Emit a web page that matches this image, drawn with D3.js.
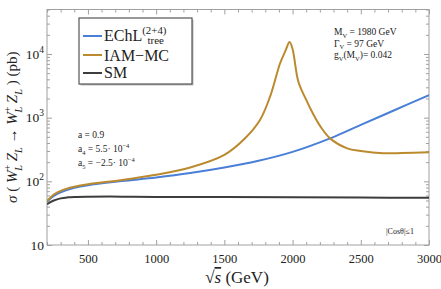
<!DOCTYPE html>
<html>
<head>
<meta charset="utf-8">
<script src="https://cdn.jsdelivr.net/npm/d3@7"></script>
<style>
  body { margin: 0; background: #fff; }
  text { font-family: "Liberation Serif", "DejaVu Serif", serif; }
</style>
</head>
<body>
<div id="chart"></div>
<script>
const width = 441;
const height = 289;

// sqrt(s) in GeV and sigma in pb
const smX = [200, 250, 300, 350, 400, 500, 750, 1000, 1500, 2000, 2500, 3000];
const smY = [44, 50, 54, 56, 57, 57.5, 57.5, 57, 56.5, 56, 55.5, 55];

const echlX = [200, 250, 300, 400, 500, 750, 1000, 1250, 1500, 1750, 2000, 2275, 2500, 2750, 3000];
const echlY = [48, 59, 67, 79, 87, 101, 115, 135, 165, 210, 290, 473, 770, 1320, 2265];

const iamX = [200, 250, 300, 400, 500, 750, 1000, 1250, 1500, 1650, 1760, 1835, 1908, 1950, 1978, 2000, 2042, 2100, 2150, 2200, 2275, 2400, 2500, 2663, 2800, 3000];
const iamY = [49, 62, 71, 82, 90, 105, 127, 165, 260, 470, 910, 2140, 7100, 11500, 15500, 12000, 3700, 1900, 1150, 750, 473, 330, 300, 276, 278, 286];

const xTicks = [500, 1000, 1500, 2000, 2500, 3000];
const yTicks = [10, 100, 1000, 10000];
const yExp = ["", "2", "3", "4"];

const series = [
  {name: "EChL", xs: echlX, ys: echlY, color: "#4a7fd8"},
  {name: "IAM-MC", xs: iamX, ys: iamY, color: "#bb8a2e"},
  {name: "SM", xs: smX, ys: smY, color: "#3d3d3d"}
];

const margin = {top: 9.5, right: 12, bottom: 44, left: 47};

const svg = d3.select("#chart").append("svg")
  .attr("width", width)
  .attr("height", height);

const x = d3.scaleLinear()
  .domain([200, 3000])
  .range([margin.left, width - margin.right]);

const y = d3.scaleLog()
  .domain([10, 50000])
  .range([height - margin.bottom, margin.top]);

const frameColor = "#a0a0a0";

// minor tick values
const xMinor = d3.range(200, 3001, 100).filter(d => d % 500 !== 0);
const yMinor = [];
[10, 100, 1000, 10000].forEach(b => {
  for (let k = 2; k <= 9; k++) if (b * k <= 50000) yMinor.push(b * k);
});

function styleAxis(g) {
  g.select(".domain").remove();
  g.selectAll("line").attr("stroke", frameColor);
}

// bottom / top axes
svg.append("g")
  .attr("transform", `translate(0,${y.range()[0]})`)
  .call(d3.axisBottom(x).tickValues(xTicks).tickSize(-5).tickPadding(9).tickFormat(d3.format("d")))
  .call(styleAxis)
  .call(g => g.selectAll("text").attr("font-size", 12.5).attr("fill", "#222")
    .attr("font-family", "Liberation Serif"));
svg.append("g")
  .attr("transform", `translate(0,${y.range()[0]})`)
  .call(d3.axisBottom(x).tickValues(xMinor).tickSize(-3).tickFormat(""))
  .call(styleAxis);
svg.append("g")
  .attr("transform", `translate(0,${y.range()[1]})`)
  .call(d3.axisTop(x).tickValues(xTicks).tickSize(-5).tickFormat(""))
  .call(styleAxis);
svg.append("g")
  .attr("transform", `translate(0,${y.range()[1]})`)
  .call(d3.axisTop(x).tickValues(xMinor).tickSize(-3).tickFormat(""))
  .call(styleAxis);

// left / right axes
svg.append("g")
  .attr("transform", `translate(${x.range()[0]},0)`)
  .call(d3.axisLeft(y).tickValues(yTicks).tickSize(-5).tickFormat(""))
  .call(styleAxis);
svg.append("g")
  .attr("transform", `translate(${x.range()[0]},0)`)
  .call(d3.axisLeft(y).tickValues(yMinor).tickSize(-3).tickFormat(""))
  .call(styleAxis);
svg.append("g")
  .attr("transform", `translate(${x.range()[1]},0)`)
  .call(d3.axisRight(y).tickValues(yTicks).tickSize(-5).tickFormat(""))
  .call(styleAxis);
svg.append("g")
  .attr("transform", `translate(${x.range()[1]},0)`)
  .call(d3.axisRight(y).tickValues(yMinor).tickSize(-3).tickFormat(""))
  .call(styleAxis);

// y tick labels 10, 10^2 ...
yTicks.forEach((v, i) => {
  const t = svg.append("text")
    .attr("x", x.range()[0] - 3)
    .attr("y", y(v) + 4.5)
    .attr("text-anchor", "end")
    .attr("font-size", 13.5)
    .attr("fill", "#222");
  t.append("tspan").text("10");
  if (yExp[i]) t.append("tspan").attr("dy", -6).attr("font-size", 9.5).text(yExp[i]);
});

// frame
svg.append("rect")
  .attr("x", x.range()[0]).attr("y", y.range()[1])
  .attr("width", x.range()[1] - x.range()[0])
  .attr("height", y.range()[0] - y.range()[1])
  .attr("fill", "none")
  .attr("stroke", frameColor)
  .attr("stroke-width", 1);

// curves
svg.append("clipPath").attr("id", "clip").append("rect")
  .attr("x", x.range()[0]).attr("y", y.range()[1])
  .attr("width", x.range()[1] - x.range()[0])
  .attr("height", y.range()[0] - y.range()[1]);

const line = d3.line()
  .curve(d3.curveCatmullRom.alpha(0.5))
  .x(d => x(d[0]))
  .y(d => y(d[1]));

[series[2], series[0], series[1]].forEach(s => {
  svg.append("path")
    .datum(s.xs.map((v, i) => [v, s.ys[i]]))
    .attr("clip-path", "url(#clip)")
    .attr("fill", "none")
    .attr("stroke", s.color)
    .attr("stroke-width", 2)
    .attr("stroke-linejoin", "round")
    .attr("d", line);
});

// rich text helper: parts = [text, mode, dx, italic] with mode "", "i", "sub", "sup"
function rich(t, parts, size, subShift = 0.3) {
  let off = 0;
  parts.forEach(p => {
    const [txt, mode, dx, ital] = p;
    let target = 0;
    if (mode === "sub") target = size * subShift;
    if (mode === "sup") target = -size * 0.42;
    const ts = t.append("tspan").text(txt).attr("dy", target - off);
    if (dx) ts.attr("dx", dx);
    if (mode === "sub" || mode === "sup") ts.attr("font-size", size * 0.68);
    if (mode === "i" || ital) ts.attr("font-style", "italic");
    off = target;
  });
}

// legend
const lg = svg.append("g");
lg.append("rect")
  .attr("x", 80.5).attr("y", 19.5).attr("width", 113).attr("height", 66)
  .attr("fill", "#bbb");
lg.append("rect")
  .attr("x", 79).attr("y", 18).attr("width", 113).attr("height", 66)
  .attr("fill", "#fff").attr("stroke", "#555").attr("stroke-width", 1.2);
const legY = [36, 55, 73];
series.forEach((s, i) => {
  lg.append("line")
    .attr("x1", 83).attr("x2", 102)
    .attr("y1", legY[i]).attr("y2", legY[i])
    .attr("stroke", s.color).attr("stroke-width", 2);
});
rich(lg.append("text").attr("x", 104).attr("y", legY[0] + 5).attr("font-size", 16).attr("fill", "#222"),
  [["EChL", ""], ["(2+4)", "sup"], ["tree", "sub", -19]], 16, 0.2);
lg.append("text").attr("x", 104).attr("y", legY[1] + 6).attr("font-size", 16).attr("fill", "#222").text("IAM\u2212MC");
lg.append("text").attr("x", 104).attr("y", legY[2] + 5).attr("font-size", 16).attr("fill", "#222").text("SM");

// annotations
const ann = 9.5;
rich(svg.append("text").attr("x", 334).attr("y", 35).attr("font-size", ann).attr("fill", "#222"),
  [["M", ""], ["V", "sub"], [" = 1980 GeV", ""]], ann);
rich(svg.append("text").attr("x", 334).attr("y", 46.5).attr("font-size", ann).attr("fill", "#222"),
  [["\u0393", ""], ["V", "sub"], [" = 97 GeV", ""]], ann);
rich(svg.append("text").attr("x", 334).attr("y", 58).attr("font-size", ann).attr("fill", "#222"),
  [["g", ""], ["V", "sub"], ["(M", ""], ["V", "sub"], [")= 0.042", ""]], ann);

rich(svg.append("text").attr("x", 78).attr("y", 138).attr("font-size", ann).attr("fill", "#222"),
  [["a = 0.9", ""]], ann);
rich(svg.append("text").attr("x", 78).attr("y", 152).attr("font-size", ann).attr("fill", "#222"),
  [["a", ""], ["4", "sub"], [" = 5.5\u00b7 10", ""], ["\u22124", "sup"]], ann);
rich(svg.append("text").attr("x", 78).attr("y", 166).attr("font-size", ann).attr("fill", "#222"),
  [["a", ""], ["5", "sub"], [" = \u22122.5\u00b7 10", ""], ["\u22124", "sup"]], ann);

svg.append("text").attr("x", 386).attr("y", 234).attr("font-size", 8).attr("fill", "#222")
  .text("|Cos\u03b8|\u22641");

// axis titles
rich(svg.append("text").attr("x", 237).attr("y", 283).attr("text-anchor", "middle")
  .attr("font-size", 17).attr("fill", "#222"),
  [["\u221a", ""], ["s", "i"], [" (GeV)", ""]], 17);
svg.selectAll("tspan").filter(function() { return this.textContent === "s" && this.getAttribute("font-style") === "italic"; })
  .attr("text-decoration", "overline");

const yt = svg.append("text")
  .attr("transform", `translate(17,${(y.range()[0] + y.range()[1]) / 2}) rotate(-90)`)
  .attr("text-anchor", "middle")
  .attr("font-size", 15)
  .attr("fill", "#222");
rich(yt, [["\u03c3", "i"], [" ( ", ""], ["W", "i"], ["+", "sup"], ["L", "sub", -6, true], [" ", ""], ["Z", "i"], ["L", "sub", 0, true],
  [" \u2192 ", ""], ["W", "i"], ["+", "sup"], ["L", "sub", -6, true], [" ", ""], ["Z", "i"], ["L", "sub", 0, true], [" ) (pb)", ""]], 15);
</script>
</body>
</html>
